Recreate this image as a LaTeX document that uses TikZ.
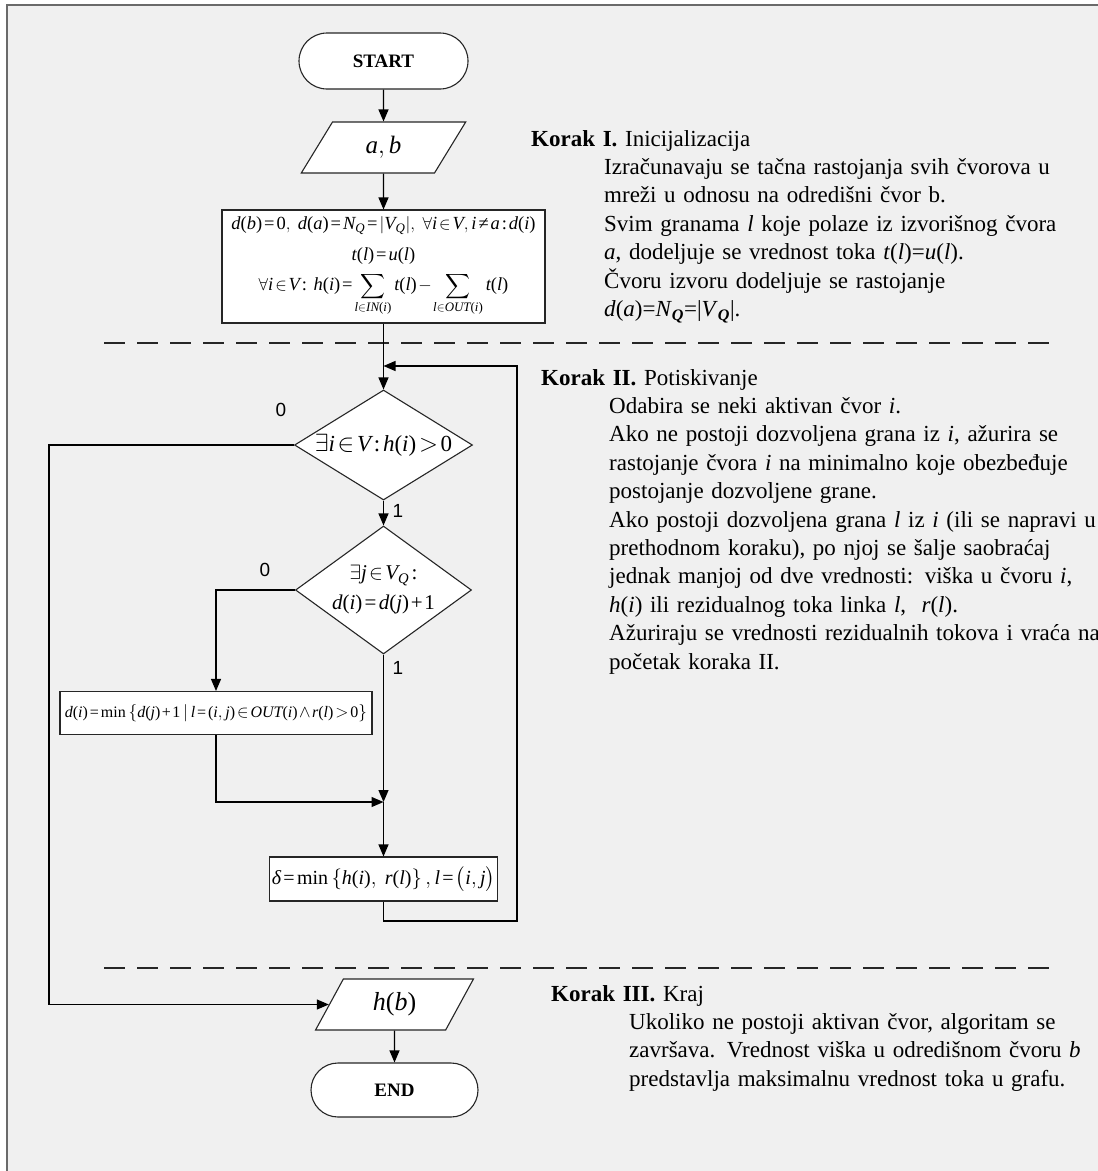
\documentclass[tikz,border=0pt]{standalone}
\usepackage{amsmath}
\usepackage[no-math]{fontspec}
\setmainfont{Liberation Serif}[NFSSFamily=lsr]
\newfontfamily\labelfont{Liberation Sans}
% formulas: Latin letters, digits and operator names in the serif text face
\DeclareSymbolFont{operators}{TU}{lsr}{m}{n}
\DeclareSymbolFont{lsit}{TU}{lsr}{m}{it}
\makeatletter
\@tempcnta=`a\relax
\loop
  \Umathcode\@tempcnta = 7 \symlsit \@tempcnta
\ifnum\@tempcnta<`z\relax
  \advance\@tempcnta\@ne
\repeat
\@tempcnta=`A\relax
\loop
  \Umathcode\@tempcnta = 7 \symlsit \@tempcnta
\ifnum\@tempcnta<`Z\relax
  \advance\@tempcnta\@ne
\repeat
\makeatother
\Umathchardef\delta = 0 \symlsit "03B4
\newcommand\noteq{\mathrel{\text{≠}}}
\usetikzlibrary{shapes.geometric,arrows.meta,calc}
\definecolor{paper}{HTML}{F0F0F0}
\definecolor{framegray}{HTML}{6A6A6A}

\begin{document}
\thickmuskip=2mu plus 1mu
\medmuskip=1.5mu plus 1mu
\begin{tikzpicture}[x=1pt,y=-1pt,
  line/.style={line width=1.2pt, draw=black},
  arr/.style={line, -{Triangle[length=12pt,width=10pt]}},
  box/.style={draw=black!85, line width=1.1pt, fill=white, inner sep=2pt},
  term/.style={box, minimum width=169pt, minimum height=56pt, rounded corners=28pt,
    font=\fontsize{19}{22}\selectfont\bfseries},
  io/.style={box, trapezium, trapezium left angle=65, trapezium right angle=115,
    trapezium stretches=true},
  dec/.style={box, diamond, inner sep=0pt},
  lbl/.style={font=\labelfont\fontsize{19}{22}\selectfont, inner sep=0pt},
  note/.style={anchor=base west, text width=600pt, align=left, inner sep=0pt,
    font=\fontsize{23}{28.4}\selectfont},
  sep/.style={line width=2.6pt, draw=black!85, dash pattern=on 21pt off 12pt}
]
\useasboundingbox (0,0) rectangle (1098,1171);
% page and frame
\fill[white] (0,0) rectangle (1098,1171);
\fill[paper] (7,5) rectangle (1098,1171);
\draw[framegray, line width=2pt] (7,1171) -- (7,5) -- (1098,5);

% step separators
\coordinate (s1a) at (104,343);
\coordinate (s1b) at (1052,343);
\coordinate (s2a) at (104,968);
\coordinate (s2b) at (1052,968);
\draw[sep] (s1a) -- (s1b);
\draw[sep] (s2a) -- (s2b);

% flowchart nodes
\node[term] (start) at (383.5,61) {START};
\node[io, minimum width=165pt, minimum height=51pt, font=\fontsize{25}{28}\selectfont] (ab) at (383.5,147.5) {$a,b$};
\node[box, minimum width=323pt, minimum height=113pt, align=center,
  font=\fontsize{18.5}{30}\selectfont] (init) at (383.5,266.5)
  {$d(b)=0,\ d(a)=N_Q=|V_Q|,\ \forall i\in V, i\noteq a: d(i)$\\[1pt]
   $t(l)=u(l)$\\[0pt]
   $\displaystyle\forall i\in V:\ h(i)=\sum_{l\in IN(i)}t(l)-\sum_{l\in OUT(i)}t(l)$};
\node[dec, minimum width=178pt, minimum height=110pt, shape aspect=1.62,
  font=\fontsize{23}{26}\selectfont] (d1) at (383.5,445) {$\exists i\in V: h(i)>0$};
\node[dec, minimum width=176pt, minimum height=128pt, shape aspect=1.375, align=center,
  font=\fontsize{21}{30}\selectfont] (d2) at (383.5,590)
  {$\exists j\in V_Q:$\\$d(i)=d(j)+1$};
\node[box, minimum width=312pt, minimum height=43pt, font=\fontsize{16}{18}\selectfont] (upd) at (216,713)
  {$d(i)=\min\left\{d(j)+1\,|\,l=(i,j)\in OUT(i)\wedge r(l)>0\right\}$};
\node[box, minimum width=223pt, minimum height=44pt, font=\fontsize{20}{22}\selectfont] (push) at (383.5,879)
  {$\delta=\min\left\{h(i),\ r(l)\right\},l=\left(i,j\right)$};
\node[io, minimum width=159pt, minimum height=51pt, font=\fontsize{26}{28}\selectfont] (hb) at (394.5,1004.5) {$h(b)$};
\node[term, minimum width=167pt, minimum height=54pt, rounded corners=27pt] (end) at (394.5,1090) {END};

% branch labels
\node[lbl] (z1) at (281,410) {0};
\node[lbl] (o1) at (398,511) {1};
\node[lbl] (z2) at (265,570) {0};
\node[lbl] (o2) at (398,668) {1};

% connectors
\coordinate (j1) at (383.5,366);
\coordinate (loopc) at (517,921);
\coordinate (lft) at (49,445);
\coordinate (j2) at (383.5,802);
\draw[arr] (start) -- (ab);
\draw[arr] (ab) -- (init);
\draw[arr] (init) -- (d1);
\draw[arr] (push.south) |- (loopc) |- (j1);
\draw[arr] (d1.west) -- (lft) |- (hb.west);
\draw[arr] (d1.south) -- (d2.north);
\draw[arr] (d2.west) -| (upd.north);
\draw[arr] (d2.south) -- (j2);
\draw[arr] (upd.south) |- (j2);
\draw[arr] (j2) -- (push.north);
\draw[arr] (hb) -- (end);

% step descriptions
\node[note] (k1) at (531,146) {\textbf{Korak I.} Inicijalizacija\\
\hspace*{73pt}Izračunavaju se tačna rastojanja svih čvorova u\\
\hspace*{73pt}mreži u odnosu na odredišni čvor b.\\
\hspace*{73pt}Svim granama \textit{l} koje polaze iz izvorišnog čvora\\
\hspace*{73pt}\textit{a}, dodeljuje se vrednost toka \textit{t}(\textit{l})=\textit{u}(\textit{l}).\\
\hspace*{73pt}Čvoru izvoru dodeljuje se rastojanje\\
\hspace*{73pt}\textit{d}(\textit{a})=\textit{N}\textsubscript{\textbf{\textit{Q}}}=|\textit{V}\textsubscript{\textbf{\textit{Q}}}|.};
\node[note] (k2) at (541,385) {\textbf{Korak II.} Potiskivanje\\
\hspace*{68pt}Odabira se neki aktivan čvor \textit{i}.\\
\hspace*{68pt}Ako ne postoji dozvoljena grana iz \textit{i}, ažurira se\\
\hspace*{68pt}rastojanje čvora \textit{i} na minimalno koje obezbeđuje\\
\hspace*{68pt}postojanje dozvoljene grane.\\
\hspace*{68pt}Ako postoji dozvoljena grana \textit{l} iz \textit{i} (ili se napravi u\\
\hspace*{68pt}prethodnom koraku), po njoj se šalje saobraćaj\\
\hspace*{68pt}jednak manjoj od dve vrednosti: viška u čvoru \textit{i},\\
\hspace*{68pt}\textit{h}(\textit{i}) ili rezidualnog toka linka \textit{l},\ \ \textit{r}(\textit{l}).\\
\hspace*{68pt}Ažuriraju se vrednosti rezidualnih tokova i vraća na\\
\hspace*{68pt}početak koraka II.};
\node[note] (k3) at (551,1001) {\textbf{Korak III.} Kraj\\
\hspace*{78pt}Ukoliko ne postoji aktivan čvor, algoritam se\\
\hspace*{78pt}završava. Vrednost viška u odredišnom čvoru \textit{b}\\
\hspace*{78pt}predstavlja maksimalnu vrednost toka u grafu.};
\end{tikzpicture}
\end{document}
